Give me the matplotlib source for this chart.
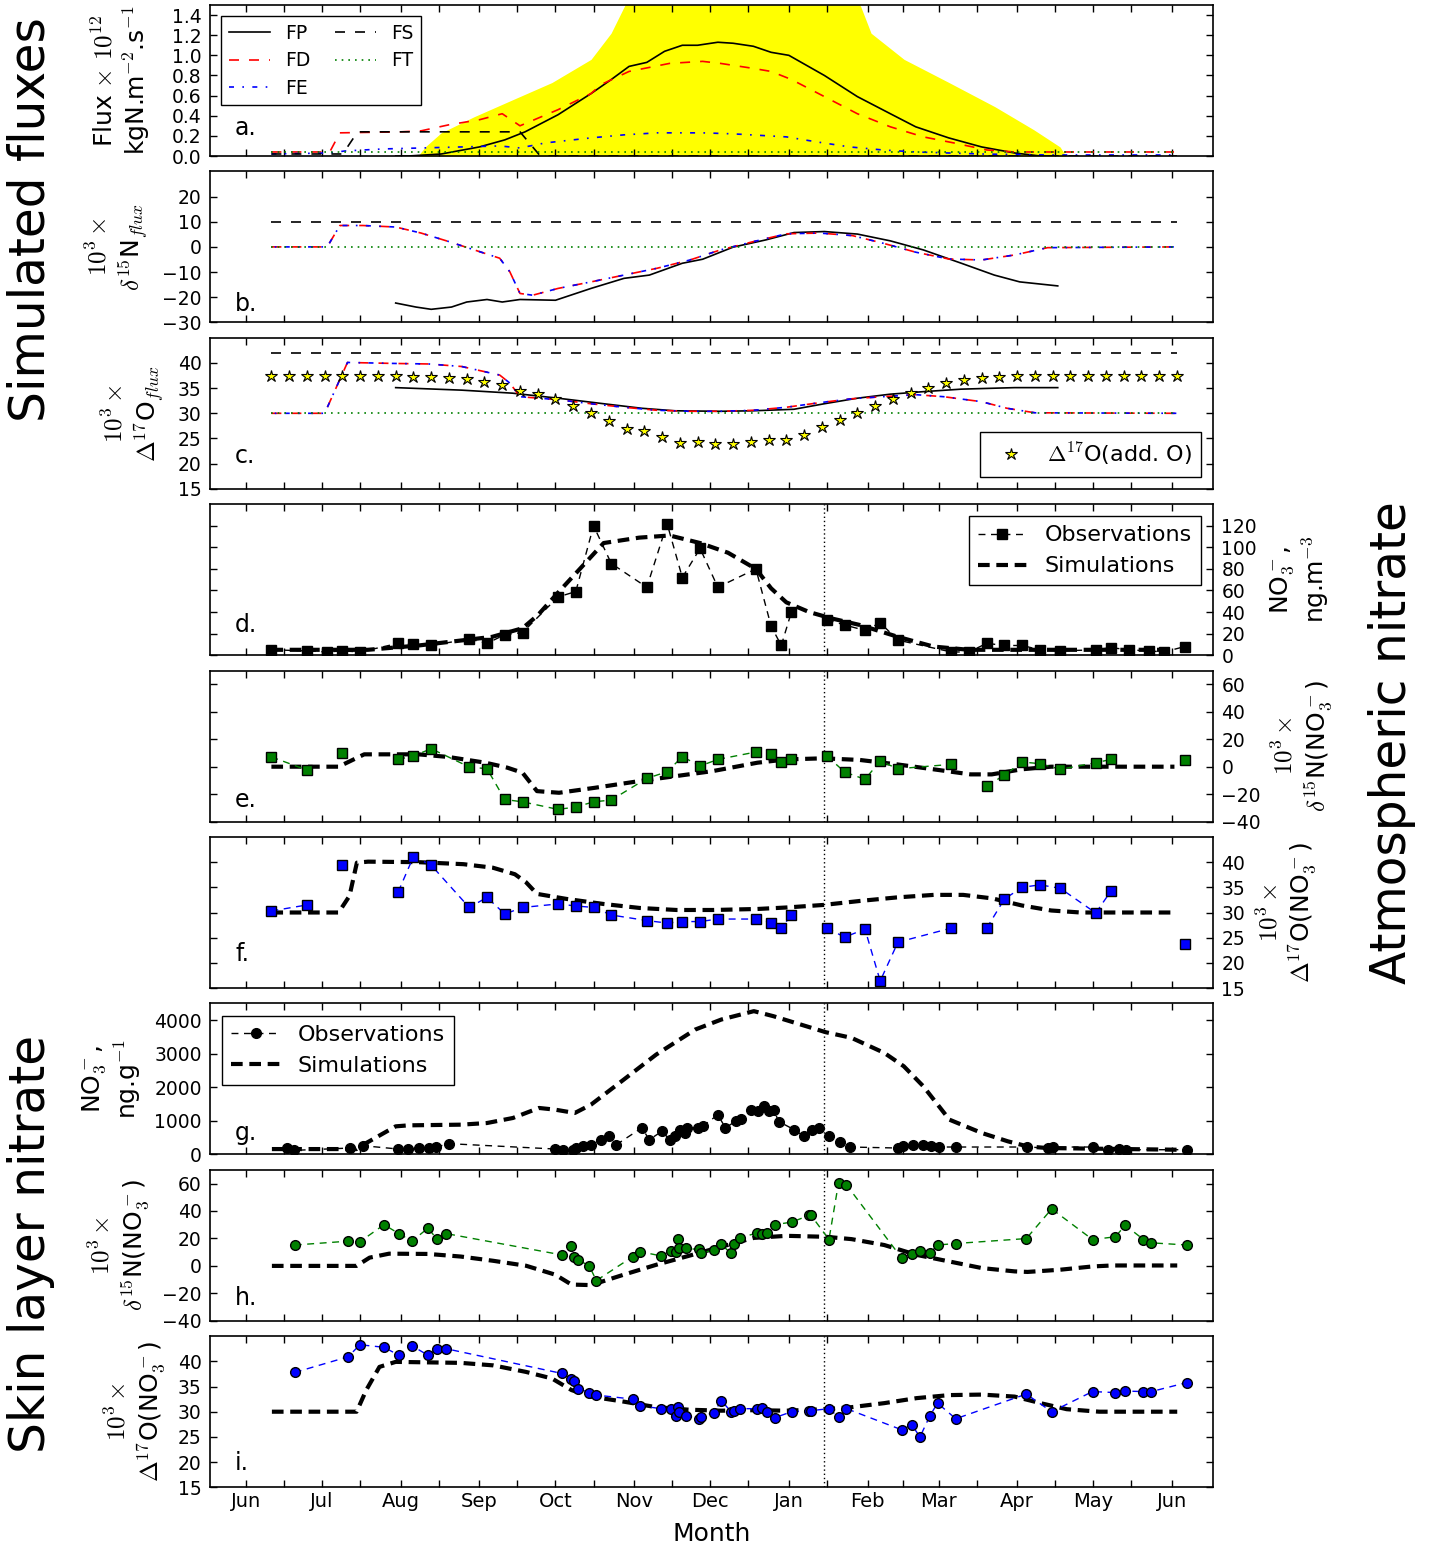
import numpy as np
import matplotlib
matplotlib.use("Agg")
import matplotlib.pyplot as plt

nan = np.nan

# x axis: days counted from 1 June
MONTH_DAYS = [0, 30, 61, 92, 122, 153, 183, 214, 245, 273, 304, 334, 365]
MONTH_LABELS = ["Jun", "Jul", "Aug", "Sep", "Oct", "Nov", "Dec", "Jan", "Feb", "Mar", "Apr", "May", "Jun"]
HALF_MONTH_DAYS = [15, 45, 76, 107, 137, 168, 198, 229, 259, 288, 319, 349]
DIVIDE_DAY = 228

# ---- panel a: fluxes ----
sun_days = [67.8, 70.6, 76.9, 89.9, 105.2, 120.6, 136, 143.9, 149, 170, 195, 220, 242.4, 246.4, 259.4, 277.1, 295.2, 310.6, 320.9, 323.2]
sun_vals = [0.0, 0.09, 0.23, 0.39, 0.56, 0.73, 0.96, 1.22, 1.48, 2.5, 3.0, 2.5, 1.48, 1.22, 0.96, 0.73, 0.49, 0.26, 0.09, 0.0]

fp_a_days = [59, 64, 77, 92, 102, 110, 123, 136, 144, 151, 158, 165, 172, 178, 186, 192, 200, 207, 214, 228, 241, 254, 264, 277, 290, 303, 313, 320]
fp_a_vals = [0.0, 0.0, 0.02, 0.09, 0.16, 0.24, 0.41, 0.62, 0.76, 0.89, 0.93, 1.04, 1.10, 1.10, 1.13, 1.12, 1.09, 1.03, 1.00, 0.80, 0.59, 0.42, 0.29, 0.18, 0.09, 0.03, 0.0, 0.0]

fd_a_days = [10, 33, 37, 61, 69, 80, 92, 101, 108, 123, 136, 140, 151, 167, 180, 187, 200, 207, 215, 228, 241, 254, 267, 279, 292, 303, 367]
fd_a_vals = [0.04, 0.04, 0.23, 0.24, 0.25, 0.31, 0.36, 0.42, 0.30, 0.46, 0.62, 0.71, 0.84, 0.92, 0.94, 0.92, 0.87, 0.84, 0.76, 0.59, 0.42, 0.29, 0.19, 0.13, 0.06, 0.04, 0.04]

fe_a_days = [10, 33, 39, 54, 85, 100, 108, 118, 136, 149, 162, 180, 192, 213, 225, 238, 251, 264, 290, 316, 367]
fe_a_vals = [0.02, 0.03, 0.05, 0.07, 0.09, 0.10, 0.08, 0.13, 0.18, 0.21, 0.23, 0.23, 0.22, 0.19, 0.14, 0.09, 0.06, 0.04, 0.02, 0.01, 0.01]

fs_a_days = [10, 38, 40, 44, 108, 110, 113, 116, 367]
fs_a_vals = [0.02, 0.02, 0.09, 0.24, 0.24, 0.18, 0.09, 0.0, 0.0]

ft_a_days = [10, 367]
ft_a_vals = [0.04, 0.04]

# ---- panel b: d15N of fluxes ----
fd_b_days = [10, 32, 37, 46, 59, 69, 80, 90, 100, 104, 108, 113, 123, 136, 149, 162, 175, 187, 200, 213, 226, 239, 251, 264, 277, 290, 303, 316, 367]
fd_b_vals = [0, 0, 8.5, 8.5, 7.9, 5.5, 2.1, -1.2, -4.5, -9.9, -18.5, -19.2, -16.5, -13.9, -11.2, -8.5, -5.2, -1.2, 2.1, 5.2, 5.5, 4.5, 1.5, -2.1, -4.8, -5.2, -3.2, -0.3, 0]

fp_b_days = [59, 67, 73, 81, 87, 95, 101, 108, 122, 136, 149, 159, 172, 180, 192, 205, 216, 228, 241, 254, 267, 282, 295, 305, 320]
fp_b_vals = [-22.3, -23.9, -24.8, -23.9, -21.9, -20.9, -21.9, -20.9, -21.2, -16.5, -12.5, -11.2, -6.5, -4.9, -0.1, 2.8, 5.7, 6.1, 5.1, 2.4, -1.2, -6.5, -11.2, -13.9, -15.5]

fs_b_vals = [10, 10]
ft_b_vals = [0, 0]

# ---- panel c: D17O of fluxes ----
fd_c_days = [10, 31, 40, 59, 72, 85, 100, 104, 108, 123, 136, 149, 162, 175, 187, 200, 213, 226, 239, 251, 264, 275, 290, 300, 311, 367]
fd_c_vals = [30, 30, 40.1, 39.9, 39.8, 39.3, 37.6, 36.0, 33.3, 32.7, 31.9, 31.2, 30.6, 30.4, 30.4, 30.6, 31.2, 32.1, 32.9, 33.3, 33.7, 33.3, 32.3, 31.0, 30.1, 30]

fp_c_days = [59, 85, 105, 123, 141, 156, 169, 187, 200, 216, 228, 241, 254, 267, 282, 303, 320]
fp_c_vals = [35.1, 34.6, 34.0, 33.0, 31.9, 31.0, 30.5, 30.4, 30.5, 30.8, 31.9, 33.0, 33.8, 34.3, 34.8, 35.1, 35.1]

fs_c_vals = [42, 42]
ft_c_vals = [30, 30]

star_days = [10, 17, 24, 31, 38, 45, 52, 59, 66, 73, 80, 87, 94, 101, 108, 115, 122, 129, 136, 143,
             150, 157, 164, 171, 178, 185, 192, 199, 206, 213, 220, 227, 234, 241, 248, 255, 262, 269, 276, 283,
             290, 297, 304, 311, 318, 325, 332, 339, 346, 353, 360, 367]
star_vals = [37.5, 37.5, 37.5, 37.5, 37.5, 37.5, 37.5, 37.5, 37.3, 37.3, 37.0, 36.8, 36.3, 35.6, 34.4, 33.8, 32.8, 31.5, 30.0, 28.4,
             26.9, 26.4, 25.3, 24.1, 24.3, 23.9, 23.9, 24.3, 24.7, 24.7, 25.7, 27.2, 28.7, 30.0, 31.5, 32.8, 34.0, 35.0, 36.0, 36.6,
             37.0, 37.3, 37.5, 37.5, 37.5, 37.5, 37.5, 37.5, 37.5, 37.5, 37.5, 37.5]

# ---- panels d-f: atmospheric nitrate ----
atm_days = [10, 24, 32, 38, 45, 60, 66, 73, 88, 95, 102, 109, 123, 130, 137, 144, 158, 166, 172, 179,
            186, 201, 207, 211, 215, 222, 229, 236, 244, 250, 257, 278, 285, 292, 299, 306, 313, 321, 335, 341,
            348, 356, 362, 370]
atm_conc = [5, 4, 3, 4, 3, 11, 10, 9, 15, 11, 19, 21, 54, 59, 120, 85, 63, 122, 72, 99,
            63, 80, 27, 9, 40, nan, 33, 28, 23, 30, 14, 3, 3, 11, 9, 9, 5, 4, 5, 7,
            5, 4, 3, 8]
atm_d15n = [7.1, -2.4, nan, 9.7, nan, 5.3, 7.8, 13.1, -0.2, -1.5, -23.9, -25.6, -31.1, -29.4, -25.6, -24.3, -8.5, -3.7, 7.3, 0.5,
            5.3, 10.7, 9.5, 3.6, 5.8, nan, 7.8, -3.9, -9.2, 4.1, -1.5, 1.7, nan, -14.1, -6.1, 3.4, 2.2, -1.9, 2.9, 5.3,
            nan, nan, nan, 4.6]
atm_d17o = [30.3, 31.5, nan, 39.4, nan, 34.1, 41.1, 39.4, 31.0, 33.0, 29.7, 31.0, 31.7, 31.3, 31.0, 29.5, 28.4, 27.9, 28.2, 28.2,
            28.7, 28.7, 28.0, 26.9, 29.5, nan, 26.9, 25.1, 26.7, 16.4, 24.1, 26.9, nan, 26.9, 32.7, 35.0, 35.5, 34.8, 29.9, 34.3,
            nan, nan, nan, 23.7]

sim_conc_days = [10, 48, 68, 97, 109, 115, 123, 132, 141, 155, 167, 179, 190, 201, 207, 213, 222, 231, 242, 257, 271, 285, 366]
sim_conc_vals = [5, 5, 9, 17, 25, 37, 58, 81, 104, 109, 111, 104, 95, 80, 62, 49, 40, 34, 28, 17, 8, 5, 5]

sim_atm_d15n_days = [10, 36.5, 46.6, 68, 79.7, 94.4, 103, 109, 114.7, 123.4, 137.8, 155, 169.7, 184, 201.6, 213, 227.6, 242, 256.6, 271, 285.6, 294, 305.8, 317.4, 366]
sim_atm_d15n_vals = [0, 0, 9.0, 9.0, 7.1, 2.9, -0.7, -4.4, -17.8, -19, -15.3, -10.5, -6.8, -3.2, 2.9, 5.3, 6.1, 4.9, 1.7, -1.9, -5.6, -5.6, -1.9, 0, 0]

sim_atm_d17o_days = [10, 36.5, 40.8, 43.7, 48.1, 68, 85.7, 97.3, 106, 110.4, 114.7, 126.3, 140.8, 155.2, 169.7, 184.2, 201.6, 213.2, 227.6, 242.1, 256.6, 271.1, 282.7, 294.2, 305.8, 317.4, 329, 366]
sim_atm_d17o_vals = [30, 30, 33.3, 39.9, 40.1, 40, 39.6, 38.9, 37.6, 36.0, 33.7, 32.7, 31.7, 30.9, 30.5, 30.5, 30.7, 31.0, 31.5, 32.3, 33.0, 33.5, 33.5, 32.8, 31.4, 30.4, 30, 30]

# ---- panels g-i: skin layer nitrate ----
snow_conc_days = [16, 19, 41, 46, 60, 64, 68, 72, 75, 80, 122, 125, 129, 130, 133, 136, 140, 143, 146, 156,
                  159, 164, 167, 169, 171, 173, 174, 178, 180, 186, 189, 193, 195, 199, 202, 204, 206, 208, 210, 216,
                  220, 223, 226, 230, 234, 238, 257, 259, 263, 267, 270, 273, 280, 308, 316, 318, 334, 340, 344, 347, 371]
snow_conc = [200, 120, 190, 260, 160, 160, 190, 190, 220, 320, 160, 140, 140, 190, 240, 290, 440, 540, 290, 790,
             440, 690, 440, 540, 740, 640, 790, 790, 840, 1180, 790, 990, 1060, 1330, 1280, 1430, 1280, 1330, 980, 740,
             540, 740, 790, 540, 360, 220, 190, 260, 290, 290, 260, 220, 220, 220, 190, 220, 220, 140, 160, 140, 140]

snow_days = [19.2, 40.2, 44.9, 54.4, 60.3, 65.4, 71.8, 75.2, 79.0, 124.5, 128.3, 129.3, 130.8, 135.3, 138.1,
             152.5, 155.3, 163.5, 167.4, 169.4, 170.2, 170.7, 173.3, 178.4, 179.2, 184.3, 187.4, 191.2, 192.5, 194.6,
             201.5, 203.3, 205.4, 208.4, 215.1, 222.0, 222.6, 229.8, 233.6, 236.7, 258.5, 262.4, 265.7, 269.6, 272.6,
             279.8, 307.6, 317.6, 333.7, 342.7, 346.6, 353.8, 356.9, 371.0]
snow_d15n = [15.2, 18.0, 17.6, 30.0, 23.5, 18.0, 27.6, 19.5, 23.5, 8.0, 14.7, 6.8, 4.4, 0.1, -10.7,
             6.8, 10.4, 7.3, 10.9, 9.9, 19.5, 13.2, 12.7, 12.0, 9.1, 11.6, 15.6, 9.1, 15.6, 20.4,
             24.0, 23.5, 24.0, 30.0, 31.9, 36.8, 37.2, 19.2, 60.7, 59.1, 5.6, 8.4, 10.9, 9.1, 15.2,
             16.3, 19.9, 41.5, 19.2, 21.2, 29.6, 19.2, 16.8, 15.2]
snow_d17o = [37.8, 40.9, 43.3, 42.8, 41.2, 43.1, 41.2, 42.5, 42.5, 37.6, 36.5, 36.1, 34.6, 33.8, 33.3,
             32.5, 31.2, 30.6, 30.6, 29.2, 31.0, 30.0, 29.2, 28.6, 29.0, 29.8, 32.2, 30.0, 30.2, 30.6,
             30.6, 30.8, 30.0, 28.8, 30.0, 30.2, 30.2, 30.6, 28.9, 30.6, 26.4, 27.4, 25.0, 29.2, 31.7,
             28.6, 33.5, 30.0, 34.0, 33.8, 34.1, 34.0, 34.0, 35.8]

sim_snow_conc_days = [10.2, 43.6, 46.2, 59.0, 64.1, 84.7, 95.0, 105.2, 115.5, 121.9, 129.6, 136.0, 148.9, 161.7, 177.1, 187.4, 200.2, 207.9, 220.8, 228.5, 238.7, 251.6, 259.3, 267.0, 277.3, 290.1, 300.4, 308.1, 315.8, 367.1]
sim_snow_conc_vals = [159, 159, 288, 836, 866, 886, 935, 1085, 1384, 1333, 1234, 1483, 2229, 2975, 3721, 4020, 4269, 4119, 3821, 3642, 3473, 3025, 2627, 2030, 1035, 637, 388, 239, 189, 139]

sim_snow_d15n_days = [10.2, 43.6, 48.7, 56.4, 71.8, 84.7, 97.5, 110.4, 121.9, 128.3, 136.0, 148.9, 161.7, 174.5, 187.4, 200.2, 213.1, 228.5, 238.7, 251.6, 264.4, 277.3, 290.1, 303.0, 308.1, 320.9, 333.7, 341.4, 367.1]
sim_snow_d15n_vals = [0, 0, 6.0, 8.9, 8.7, 6.8, 3.7, 0.1, -6.4, -13.6, -14, -6.4, 0.8, 7.3, 14, 20.4, 21.9, 21.2, 19.5, 15.2, 8.0, 3.2, -1.6, -4.0, -4.4, -2.8, -0.4, 0.3, 0.3]

sim_snow_d17o_days = [10.2, 43.6, 47.4, 52.6, 59.0, 84.7, 97.5, 110.4, 120.6, 128.3, 136.0, 148.9, 161.7, 174.5, 187.4, 200.2, 213.1, 228.5, 238.7, 251.6, 264.4, 277.3, 290.1, 303.0, 313.2, 323.5, 336.3, 367.1]
sim_snow_d17o_vals = [30, 30, 34.3, 38.9, 39.9, 39.7, 39.2, 37.9, 36.6, 34.3, 33.0, 32.0, 30.9, 30.4, 30.2, 30.3, 30.2, 30.5, 30.9, 31.7, 32.7, 33.3, 33.4, 33.0, 31.7, 30.5, 30.0, 30.0]

GREEN = "#008000"
BLUE = "#0000ff"
RED = "#ff0000"
OBS_DASH = (0, (5, 4))
SIM_DASH = (0, (2.8, 1.6))

plt.rcParams.update(
    {
        "font.family": "DejaVu Sans",
        "mathtext.fontset": "cm",
        "axes.linewidth": 1.2,
        "xtick.labelsize": 14,
        "ytick.labelsize": 13.5,
        "ytick.major.pad": 6,
        "axes.labelsize": 18,
        "axes.labelpad": 8,
        "legend.fancybox": False,
        "legend.edgecolor": "black",
        "legend.framealpha": 1.0,
    }
)

W, H = 1432, 1550
fig = plt.figure(figsize=(W / 100, H / 100), dpi=100)
axes = []
for k in range(9):
    top = 5 + 166.4 * k
    axes.append(fig.add_axes([210 / W, 1 - (top + 151) / H, 1003 / W, 151 / H]))


def style_axis(ax, ylim, yticks, fmt=None, right=False, bottom=False):
    ax.set_xlim(-14.2, 381.2)
    ax.set_ylim(*ylim)
    ax.set_xticks(MONTH_DAYS)
    ax.set_xticks(HALF_MONTH_DAYS, minor=True)
    ax.set_yticks(yticks)
    if fmt:
        ax.set_yticklabels([fmt % v for v in yticks])
    ax.tick_params(which="both", direction="in", top=True, right=True, left=True, length=5, width=1)
    if bottom:
        ax.set_xticklabels(MONTH_LABELS)
    else:
        ax.tick_params(labelbottom=False)
    if right:
        ax.tick_params(labelleft=False, labelright=True)
        ax.yaxis.set_label_position("right")


def panel_label(ax, txt, yfrac):
    ax.text(0.025, yfrac, txt, transform=ax.transAxes, fontsize=17, va="center", ha="left")


def plot_obs(ax, days, vals, color, marker, ms, label=None):
    return ax.plot(days, vals, ls=OBS_DASH, lw=1, color=color, marker=marker, ms=ms,
                   mfc=color, mec="black", mew=1, label=label, zorder=4)[0]


def plot_sim(ax, days, vals, label=None):
    return ax.plot(days, vals, ls=SIM_DASH, lw=3, color="black", label=label, zorder=3)[0]


# a
ax = axes[0]
ax.fill_between(sun_days, 0, sun_vals, color="#ffff00", lw=0, zorder=1)
ax.plot(fp_a_days, fp_a_vals, color="black", lw=1.2, label="FP")
ax.plot(fd_a_days, fd_a_vals, color=RED, lw=1.2, ls=(0, (6, 6)), label="FD")
ax.plot(fe_a_days, fe_a_vals, color=BLUE, lw=1.2, ls=(0, (3, 5, 1, 5)), label="FE")
ax.plot(fs_a_days, fs_a_vals, color="black", lw=1.2, ls=(0, (6, 6)), label="FS")
ax.plot(ft_a_days, ft_a_vals, color=GREEN, lw=1.2, ls=(0, (1, 3)), label="FT")
style_axis(ax, (0, 1.5), [0.0, 0.2, 0.4, 0.6, 0.8, 1.0, 1.2, 1.4], fmt="%.1f")
ax.set_ylabel("Flux $\\times$ $10^{12}$\nkgN.m$^{-2}$.s$^{-1}$", labelpad=14)
ax.legend(loc="upper left", ncol=2, fontsize=13.5, handlelength=2.2, columnspacing=1.3,
          borderaxespad=0.6, labelspacing=0.45)
panel_label(ax, "a.", 0.185)

# b
ax = axes[1]
ax.plot(fp_b_days, fp_b_vals, color="black", lw=1.2)
ax.plot(fd_b_days, fd_b_vals, color=RED, lw=1.2, ls=(0, (6, 6)))
ax.plot(fd_b_days, fd_b_vals, color=BLUE, lw=1.2, ls=(6, (3, 5, 1, 5)))
ax.plot(ft_a_days, fs_b_vals, color="black", lw=1.2, ls=(0, (6, 6)))
ax.plot(ft_a_days, ft_b_vals, color=GREEN, lw=1.2, ls=(0, (1, 3)))
style_axis(ax, (-30, 30), [-30, -20, -10, 0, 10, 20])
ax.set_ylabel("$10^3\\times$\n$\\delta^{15}$N$_{flux}$")
panel_label(ax, "b.", 0.12)

# c
ax = axes[2]
ax.plot(fp_c_days, fp_c_vals, color="black", lw=1.2)
ax.plot(fd_c_days, fd_c_vals, color=RED, lw=1.2, ls=(0, (6, 6)))
ax.plot(fd_c_days, fd_c_vals, color=BLUE, lw=1.2, ls=(6, (3, 5, 1, 5)))
ax.plot(ft_a_days, fs_c_vals, color="black", lw=1.2, ls=(0, (6, 6)))
ax.plot(ft_a_days, ft_c_vals, color=GREEN, lw=1.2, ls=(0, (1, 3)))
ax.plot(star_days, star_vals, ls="none", marker="*", ms=9, mfc="#ffff00", mec="black", mew=0.8,
        label="$\\Delta^{17}$O(add. O)", zorder=4)
style_axis(ax, (15, 45), [15, 20, 25, 30, 35, 40])
ax.set_ylabel("$10^3\\times$\n$\\Delta^{17}$O$_{flux}$")
ax.legend(loc="lower right", numpoints=1, fontsize=16, borderaxespad=0.55, handletextpad=0.6)
panel_label(ax, "c.", 0.22)

# d
ax = axes[3]
h_sim = plot_sim(ax, sim_conc_days, sim_conc_vals, "Simulations")
h_obs = plot_obs(ax, atm_days, atm_conc, "black", "s", 6.5, "Observations")
style_axis(ax, (0, 140), [0, 20, 40, 60, 80, 100, 120], right=True)
ax.set_ylabel("NO$_3^-$,\nng.m$^{-3}$")
ax.legend([h_obs, h_sim], ["Observations", "Simulations"], loc="upper right", numpoints=1,
          fontsize=16, borderaxespad=0.55, handlelength=2.2)
panel_label(ax, "d.", 0.2)

# e
ax = axes[4]
plot_sim(ax, sim_atm_d15n_days, sim_atm_d15n_vals)
plot_obs(ax, atm_days, atm_d15n, GREEN, "s", 6.5)
style_axis(ax, (-40, 70), [-40, -20, 0, 20, 40, 60], right=True)
ax.set_ylabel("$10^3\\times$\n$\\delta^{15}$N(NO$_3^-$)")
panel_label(ax, "e.", 0.145)

# f
ax = axes[5]
plot_sim(ax, sim_atm_d17o_days, sim_atm_d17o_vals)
plot_obs(ax, atm_days, atm_d17o, BLUE, "s", 6.5)
style_axis(ax, (15, 45), [15, 20, 25, 30, 35, 40], right=True)
ax.set_ylabel("$10^3\\times$\n$\\Delta^{17}$O(NO$_3^-$)")
panel_label(ax, "f.", 0.225)

# g
ax = axes[6]
h_sim = plot_sim(ax, sim_snow_conc_days, sim_snow_conc_vals, "Simulations")
h_obs = plot_obs(ax, snow_conc_days, snow_conc, "black", "o", 7, "Observations")
style_axis(ax, (0, 4500), [0, 1000, 2000, 3000, 4000])
ax.set_ylabel("NO$_3^-$,\nng.g$^{-1}$")
ax.legend([h_obs, h_sim], ["Observations", "Simulations"], loc="upper left", numpoints=1,
          fontsize=16, borderaxespad=0.55, handlelength=2.2)
panel_label(ax, "g.", 0.14)

# h
ax = axes[7]
plot_sim(ax, sim_snow_d15n_days, sim_snow_d15n_vals)
plot_obs(ax, snow_days, snow_d15n, GREEN, "o", 7)
style_axis(ax, (-40, 70), [-40, -20, 0, 20, 40, 60])
ax.set_ylabel("$10^3\\times$\n$\\delta^{15}$N(NO$_3^-$)")
panel_label(ax, "h.", 0.15)

# i
ax = axes[8]
plot_sim(ax, sim_snow_d17o_days, sim_snow_d17o_vals)
plot_obs(ax, snow_days, snow_d17o, BLUE, "o", 7)
style_axis(ax, (15, 45), [15, 20, 25, 30, 35, 40], bottom=True)
ax.set_ylabel("$10^3\\times$\n$\\Delta^{17}$O(NO$_3^-$)")
ax.set_xlabel("Month", fontsize=18, labelpad=8)
panel_label(ax, "i.", 0.16)

for ax in axes[3:]:
    ax.axvline(DIVIDE_DAY, color="black", lw=1, ls=(0, (1, 2)), zorder=2)

fig.text(31 / W, 1 - 220 / H, "Simulated fluxes", rotation=90, fontsize=35, ha="center", va="center")
fig.text(1392 / W, 1 - 743 / H, "Atmospheric nitrate", rotation=90, fontsize=35, ha="center", va="center")
fig.text(31 / W, 1 - 1244 / H, "Skin layer nitrate", rotation=90, fontsize=35, ha="center", va="center")

fig.savefig("out.png", dpi=100)
